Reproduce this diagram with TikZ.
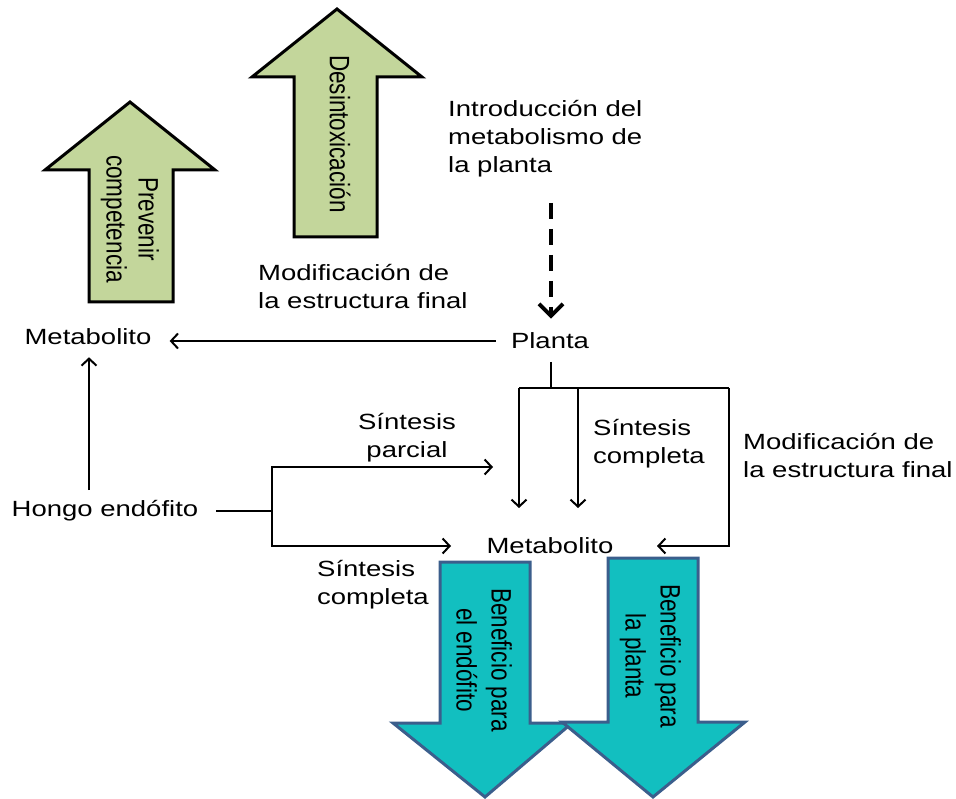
\documentclass[tikz,border=0pt]{standalone}
\usepackage{fontspec}
\usepackage{graphicx}
\setmainfont{Liberation Sans}
\newfontfamily\hfont[FakeStretch=1.25]{Liberation Sans}
\usetikzlibrary{arrows.meta}
\definecolor{lgreen}{HTML}{C3D69B}
\definecolor{tealf}{HTML}{12BFC0}
\definecolor{tealb}{HTML}{3B5E8C}
\begin{document}
\begin{tikzpicture}[x=1pt,y=-1pt,
 lbl/.style={font=\hfont\fontsize{22}{28}\selectfont, inner sep=0pt, align=left},
 vlbl/.style={font=\fontsize{22.5}{25.6}\selectfont, inner sep=0pt},
 conn/.style={line width=2pt, draw=black},
 arr/.style={conn, -{Straight Barb[length=7pt,width=15pt]}},
 greenarrow/.style={fill=lgreen, draw=black, line width=3pt, line join=miter},
 tealarrow/.style={fill=tealf, draw=tealb, line width=3pt, line join=miter},
]
\useasboundingbox (0,0) rectangle (956,799);

% green arrows
\draw[greenarrow] (130,102) -- (215,170) -- (173,170) -- (173,302) -- (89,302) -- (89,170) -- (45,170) -- cycle;
\draw[greenarrow] (337,9) -- (422,77) -- (377,77) -- (377,237) -- (294,237) -- (294,77) -- (252,77) -- cycle;
\node[vlbl] (g1t) at (129,219) {\scalebox{1.25}[1]{\rotatebox{-90}{\begin{tabular}{@{}c@{}}Prevenir\\competencia\end{tabular}}}};
\node[vlbl] (g2t) at (340,134) {\scalebox{1.25}[1]{\rotatebox{-90}{Desintoxicación}}};

% teal arrows
\draw[tealarrow] (440,562) -- (530,562) -- (530,723) -- (572,723) -- (485,797) -- (393,723) -- (440,723) -- cycle;
\draw[tealarrow] (608,558) -- (698,558) -- (698,722) -- (745,722) -- (653,797) -- (562,722) -- (608,722) -- cycle;
\node[vlbl, font=\fontsize{22.5}{28}\selectfont] (t1t) at (481,660) {\scalebox{1.25}[1]{\rotatebox{-90}{\begin{tabular}{@{}c@{}}Beneficio para\\el endófito\end{tabular}}}};
\node[vlbl, font=\fontsize{22.5}{28}\selectfont] (t2t) at (650,656) {\scalebox{1.25}[1]{\rotatebox{-90}{\begin{tabular}{@{}c@{}}Beneficio para\\la planta\end{tabular}}}};

% labels
\node[lbl, anchor=west] (intro) at (448,139) {Introducción del\\metabolismo de\\la planta};
\node[lbl, anchor=west] (mod1) at (258,287) {Modificación de\\la estructura final};
\node[lbl] (meta1) at (88,337) {Metabolito};
\node[lbl] (planta) at (550,341) {Planta};
\node[lbl] (hongo) at (105,511) {Hongo endófito};
\node[lbl, align=center] (sp) at (407,438) {Síntesis\\parcial};
\node[lbl, anchor=west] (sc1) at (317,585) {Síntesis\\completa};
\node[lbl] (meta2) at (550,546) {Metabolito};
\node[lbl, anchor=west] (sc2) at (593,444) {Síntesis\\completa};
\node[lbl, anchor=west] (mod2) at (743,456) {Modificación de\\la estructura final};

% coordinates
\coordinate (dtop) at (551,203);
\coordinate (m1e) at ([xshift=18pt]meta1.east);
\coordinate (hup) at (89,490);
\coordinate (f1) at (272,511);
\coordinate (spend) at (493,467);
\coordinate (scend) at (451,546);
\coordinate (pb) at (551,388);
\coordinate (pt) at (551,362);
\coordinate (bl) at (519,388);
\coordinate (bm) at (578,388);
\coordinate (br) at (729,388);
\coordinate (blend) at (519,508);
\coordinate (bmend) at (578,508);
\coordinate (mrend) at (657,546);

% connectors
\draw[conn, line width=4pt, dash pattern=on 16pt off 10pt, shorten >=14pt, -{Straight Barb[length=12pt,width=24pt]}] (dtop) -- (dtop |- planta.north);
\draw[arr] ([xshift=-15pt]planta.west) -- (m1e |- planta.west);
\draw[arr, shorten >=12pt] (hup) -- (hup |- meta1.south);
\draw[conn] ([xshift=18pt]hongo.east) -- (f1);
\draw[arr] (f1) |- (spend);
\draw[arr] (f1) |- (scend);
\draw[conn] (pt) -- (pb);
\draw[conn] (bl) -- (br);
\draw[arr] (bl) -- (blend);
\draw[arr] (bm) -- (bmend);
\draw[arr] (br) |- (mrend);
\end{tikzpicture}
\end{document}
